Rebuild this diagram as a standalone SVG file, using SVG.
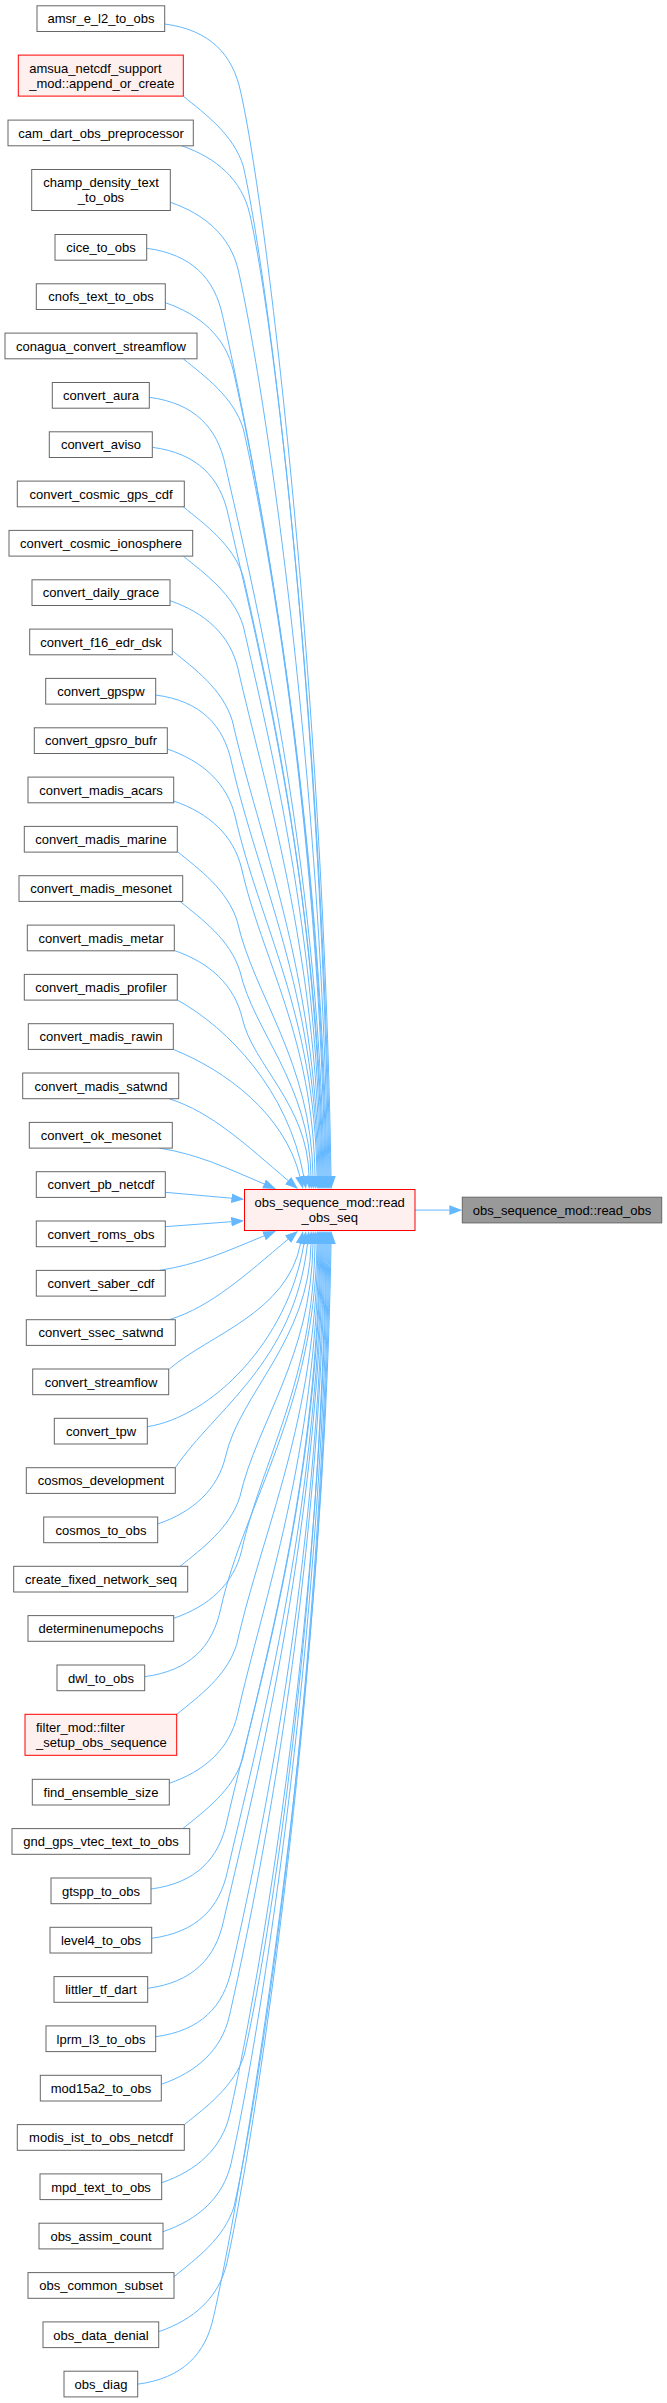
<svg xmlns="http://www.w3.org/2000/svg" width="667" height="2403" viewBox="0 0 667 2403">
<style>
.n rect{fill:#ffffff;stroke:#666666;stroke-width:1}
.hl rect{fill:#fff0f0;stroke:#ff0000;stroke-width:1}
.cur rect{fill:#999999;stroke:#666666;stroke-width:1}
text{font-family:"Liberation Sans",Arial,Helvetica,sans-serif;font-size:13px;fill:#000000;text-anchor:middle}
text.l{text-anchor:start}
#edges path{fill:none;stroke:#63b8ff;stroke-width:1;marker-end:url(#ah)}
</style>
<defs>
<marker id="ah" viewBox="0 -5 13 10" refX="0" refY="0" markerWidth="13" markerHeight="10" markerUnits="userSpaceOnUse" orient="auto">
<path d="M0,-4.8 L13,0 L0,4.8 Z" fill="#63b8ff"/>
</marker>
</defs>
<rect width="667" height="2403" fill="#ffffff"/>
<g id="edges">
<path d="M415,1210.1 L449.3,1210.1"/>
<path d="M164.7,24 C209.7,30 232.7,54 240.7,92 C267.1,209 323.2,688.2 331,1176"/>
<path d="M183.3,96.2 C205.3,114.2 233.3,134.2 243.3,166.2 C269.7,283.2 322.7,721.6 330,1176"/>
<path d="M181.7,145.8 C216.7,157.8 241.7,179.8 249.7,213.8 C276.1,330.8 322.1,743 329,1176"/>
<path d="M170.3,202.3 C205.3,214.3 230.3,236.3 238.3,270.3 C264.7,387.3 321.5,768.4 328,1176"/>
<path d="M146.7,248.3 C191.7,254.3 214.7,278.3 222.7,316.3 C249.1,433.3 320.8,789.1 327,1176"/>
<path d="M165.3,302.7 C200.3,314.7 225.3,336.7 233.3,370.7 C259.7,487.7 320.2,813.6 326,1176"/>
<path d="M183.3,358.8 C205.3,376.8 233.3,396.8 243.3,428.8 C269.7,545.8 319.6,839.8 325,1176"/>
<path d="M149.3,397.3 C194.3,403.3 217.3,427.3 225.3,465.3 C251.7,582.3 318.9,856.2 324,1176"/>
<path d="M152.3,447.3 C197.3,453.3 220.3,477.3 228.3,515.3 C254.7,632.3 318.2,878.7 323,1176"/>
<path d="M183.3,506.8 C205.3,524.8 233.3,544.8 243.3,576.8 C269.7,693.8 317.7,906.4 322,1176"/>
<path d="M183.3,556.1 C205.3,574.1 233.3,594.1 243.3,626.1 C269.7,743.1 317,928.5 321,1176"/>
<path d="M170,600.7 C205,612.7 230,634.7 238,668.7 C264.4,785.7 316.3,947.7 320,1176"/>
<path d="M172.3,650.7 C194.3,668.7 222.3,688.7 232.3,720.7 C258.7,837.7 315.7,971.1 319,1176"/>
<path d="M155.7,695 C200.7,701 223.7,725 231.7,763 C258.1,880 315,990.1 318,1176"/>
<path d="M167.3,749 C202.3,761 227.3,783 235.3,817 C259,922 314.4,1014.4 317,1176"/>
<path d="M173.7,801 C208.7,813 233.7,835 241.7,869 C262,958.8 312.8,1037.8 315,1176"/>
<path d="M177.3,851.5 C199.3,869.5 227.3,889.5 237.3,921.5 C254.1,996 311.2,1061.5 313,1176"/>
<path d="M180,901.4 C202,919.4 230,939.4 240,971.4 C253.5,1031.3 309.5,1083.9 311,1176"/>
<path d="M174.3,950.5 C209.3,962.5 234.3,984.5 242.3,1018.5 C252.7,1064.6 307.9,1105.1 309,1176"/>
<path d="M177.3,1000 C228.8,1028.4 288.3,1091.2 303.7,1176.2"/>
<path d="M173.3,1049.4 C225.2,1070.3 284.3,1113.6 299.9,1176.4"/>
<path d="M169.3,1098.8 C211.8,1112.3 245.6,1144.5 288.1,1180.6"/>
<path d="M159.3,1148.1 C197.8,1154.2 225.5,1167.5 264,1183.9"/>
<path d="M165.3,1192.3 L231.4,1198.2"/>
<path d="M165.3,1226.7 L231.3,1221.7"/>
<path d="M159.3,1270.4 C197.8,1264.5 225.5,1251.7 264,1235.9"/>
<path d="M169.3,1319.7 C211.8,1306.4 245.5,1274.8 288,1239.3"/>
<path d="M169.3,1369 C209.4,1334.5 287.1,1312.8 300.5,1243.8"/>
<path d="M147.3,1426.7 C210.8,1416.9 288,1341.7 303.9,1243.8"/>
<path d="M175.3,1467.7 C215.4,1408.5 294.1,1362.3 307.5,1243.9"/>
<path d="M157.7,1524 C192.7,1512 217.7,1490 225.7,1456 C239.7,1394 309.5,1339.4 311,1244"/>
<path d="M180,1566.4 C202,1548.4 230,1528.4 240,1496.4 C256.7,1422.6 311.2,1357.6 313,1244"/>
<path d="M173.7,1618.3 C208.7,1606.3 233.7,1584.3 241.7,1550.3 C261.9,1460.7 312.8,1381.8 315,1244"/>
<path d="M144.7,1676.7 C189.7,1670.7 212.7,1646.7 220.7,1608.7 C244.8,1502 314.4,1408.1 317,1244"/>
<path d="M176.7,1714.4 C198.7,1696.4 226.7,1676.4 236.7,1644.4 C263.1,1527.4 315.1,1424.2 318,1244"/>
<path d="M169.3,1783.3 C204.3,1771.3 229.3,1749.3 237.3,1715.3 C263.7,1598.3 315.6,1456.1 319,1244"/>
<path d="M182.7,1828.7 C204.7,1810.7 232.7,1790.7 242.7,1758.7 C269.1,1641.7 316.3,1475.6 320,1244"/>
<path d="M151,1889 C196,1883 219,1859 227,1821 C253.4,1704 316.8,1503.7 321,1244"/>
<path d="M151.7,1938.3 C196.7,1932.3 219.7,1908.3 227.7,1870.3 C254.1,1753.3 317.5,1525.8 322,1244"/>
<path d="M147.7,1988.3 C192.7,1982.3 215.7,1958.3 223.7,1920.3 C250.1,1803.3 318.1,1548.3 323,1244"/>
<path d="M155.7,2036.7 C200.7,2030.7 223.7,2006.7 231.7,1968.7 C258.1,1851.7 318.8,1570.1 324,1244"/>
<path d="M161.3,2084.3 C196.3,2072.3 221.3,2050.3 229.3,2016.3 C255.7,1899.3 319.4,1591.5 325,1244"/>
<path d="M184.3,2124.7 C206.3,2106.7 234.3,2086.7 244.3,2054.7 C270.7,1937.7 320.2,1608.8 326,1244"/>
<path d="M161.7,2182.7 C196.7,2170.7 221.7,2148.7 229.7,2114.7 C256.1,1997.7 320.7,1635.8 327,1244"/>
<path d="M163,2231.7 C198,2219.7 223,2197.7 231,2163.7 C257.4,2046.7 321.4,1657.9 328,1244"/>
<path d="M174,2276.7 C196,2258.7 224,2238.7 234,2206.7 C260.4,2089.7 322.1,1677.2 329,1244"/>
<path d="M158.7,2331.7 C193.7,2319.7 218.7,2297.7 226.7,2263.7 C253.1,2146.7 322.7,1702.9 330,1244"/>
<path d="M137.7,2384.2 C182.7,2378.2 205.7,2354.2 213.7,2316.2 C240.1,2199.2 323.3,1726.5 331,1244"/>
</g>
<g id="n_read_obs_seq" class="hl"><rect x="244.5" y="1189.5" width="170.5" height="41"/><text x="329.7" y="1207">obs_sequence_mod::read</text><text x="329.7" y="1222">_obs_seq</text></g>
<g id="n_read_obs" class="cur"><rect x="462.3" y="1197.2" width="199.4" height="25.7"/><text x="562" y="1214.8">obs_sequence_mod::read_obs</text></g>
<g id="n1" class="n"><rect x="37" y="5.8" width="127.7" height="25.7"/><text x="101" y="23.4">amsr_e_l2_to_obs</text></g>
<g id="n2" class="hl"><rect x="18.3" y="55.1" width="165" height="41"/><text class="l" x="29.3" y="72.9">amsua_netcdf_support</text><text class="l" x="29.3" y="87.6">_mod::append_or_create</text></g>
<g id="n3" class="n"><rect x="8" y="120.1" width="185.3" height="25.7"/><text x="101" y="137.7">cam_dart_obs_preprocessor</text></g>
<g id="n4" class="n"><rect x="31.7" y="169.5" width="138.6" height="41"/><text x="101" y="187.3">champ_density_text</text><text x="101" y="202">_to_obs</text></g>
<g id="n5" class="n"><rect x="55" y="234.5" width="91.7" height="25.7"/><text x="101" y="252.1">cice_to_obs</text></g>
<g id="n6" class="n"><rect x="36.3" y="283.8" width="129" height="25.7"/><text x="101" y="301.4">cnofs_text_to_obs</text></g>
<g id="n7" class="n"><rect x="5" y="333.1" width="192" height="25.7"/><text x="101" y="350.7">conagua_convert_streamflow</text></g>
<g id="n8" class="n"><rect x="52.3" y="382.5" width="97" height="25.7"/><text x="101" y="400.1">convert_aura</text></g>
<g id="n9" class="n"><rect x="49.3" y="431.8" width="103" height="25.7"/><text x="101" y="449.4">convert_aviso</text></g>
<g id="n10" class="n"><rect x="17.3" y="481.1" width="167" height="25.7"/><text x="101" y="498.7">convert_cosmic_gps_cdf</text></g>
<g id="n11" class="n"><rect x="9" y="530.4" width="183.7" height="25.7"/><text x="101" y="548">convert_cosmic_ionosphere</text></g>
<g id="n12" class="n"><rect x="32" y="579.8" width="138" height="25.7"/><text x="101" y="597.4">convert_daily_grace</text></g>
<g id="n13" class="n"><rect x="29.7" y="629.1" width="142.6" height="25.7"/><text x="101" y="646.7">convert_f16_edr_dsk</text></g>
<g id="n14" class="n"><rect x="45.7" y="678.4" width="110" height="25.7"/><text x="101" y="696">convert_gpspw</text></g>
<g id="n15" class="n"><rect x="34.3" y="727.8" width="133" height="25.7"/><text x="101" y="745.4">convert_gpsro_bufr</text></g>
<g id="n16" class="n"><rect x="28" y="777.1" width="145.7" height="25.7"/><text x="101" y="794.7">convert_madis_acars</text></g>
<g id="n17" class="n"><rect x="24.3" y="826.4" width="153" height="25.7"/><text x="101" y="844">convert_madis_marine</text></g>
<g id="n18" class="n"><rect x="19" y="875.7" width="163.7" height="25.7"/><text x="101" y="893.3">convert_madis_mesonet</text></g>
<g id="n19" class="n"><rect x="27.3" y="925.1" width="147" height="25.7"/><text x="101" y="942.7">convert_madis_metar</text></g>
<g id="n20" class="n"><rect x="24.3" y="974.4" width="153" height="25.7"/><text x="101" y="992">convert_madis_profiler</text></g>
<g id="n21" class="n"><rect x="28.3" y="1023.7" width="145" height="25.7"/><text x="101" y="1041.3">convert_madis_rawin</text></g>
<g id="n22" class="n"><rect x="22.7" y="1073" width="156" height="25.7"/><text x="101" y="1090.6">convert_madis_satwnd</text></g>
<g id="n23" class="n"><rect x="29.3" y="1122.4" width="143" height="25.7"/><text x="101" y="1140">convert_ok_mesonet</text></g>
<g id="n24" class="n"><rect x="36.3" y="1171.7" width="129" height="25.7"/><text x="101" y="1189.3">convert_pb_netcdf</text></g>
<g id="n25" class="n"><rect x="36.3" y="1221" width="129" height="25.7"/><text x="101" y="1238.6">convert_roms_obs</text></g>
<g id="n26" class="n"><rect x="36.3" y="1270.4" width="129" height="25.7"/><text x="101" y="1288">convert_saber_cdf</text></g>
<g id="n27" class="n"><rect x="26.3" y="1319.7" width="149" height="25.7"/><text x="101" y="1337.3">convert_ssec_satwnd</text></g>
<g id="n28" class="n"><rect x="32.7" y="1369" width="136" height="25.7"/><text x="101" y="1386.6">convert_streamflow</text></g>
<g id="n29" class="n"><rect x="54.3" y="1418.3" width="93" height="25.7"/><text x="101" y="1435.9">convert_tpw</text></g>
<g id="n30" class="n"><rect x="26.3" y="1467.7" width="149" height="25.7"/><text x="101" y="1485.3">cosmos_development</text></g>
<g id="n31" class="n"><rect x="43.7" y="1517" width="114" height="25.7"/><text x="101" y="1534.6">cosmos_to_obs</text></g>
<g id="n32" class="n"><rect x="13.7" y="1566.3" width="174" height="25.7"/><text x="101" y="1583.9">create_fixed_network_seq</text></g>
<g id="n33" class="n"><rect x="28" y="1615.6" width="145.7" height="25.7"/><text x="101" y="1633.2">determinenumepochs</text></g>
<g id="n34" class="n"><rect x="57" y="1665" width="87.7" height="25.7"/><text x="101" y="1682.6">dwl_to_obs</text></g>
<g id="n35" class="hl"><rect x="25" y="1714.3" width="151.7" height="41"/><text class="l" x="36" y="1732.1">filter_mod::filter</text><text class="l" x="36" y="1746.8">_setup_obs_sequence</text></g>
<g id="n36" class="n"><rect x="32.3" y="1779.3" width="137" height="25.7"/><text x="101" y="1796.9">find_ensemble_size</text></g>
<g id="n37" class="n"><rect x="12" y="1828.6" width="177.7" height="25.7"/><text x="101" y="1846.2">gnd_gps_vtec_text_to_obs</text></g>
<g id="n38" class="n"><rect x="51" y="1878" width="100" height="25.7"/><text x="101" y="1895.6">gtspp_to_obs</text></g>
<g id="n39" class="n"><rect x="50" y="1927.3" width="101.7" height="25.7"/><text x="101" y="1944.9">level4_to_obs</text></g>
<g id="n40" class="n"><rect x="54" y="1976.6" width="93.7" height="25.7"/><text x="101" y="1994.2">littler_tf_dart</text></g>
<g id="n41" class="n"><rect x="46" y="2025.9" width="109.7" height="25.7"/><text x="101" y="2043.5">lprm_l3_to_obs</text></g>
<g id="n42" class="n"><rect x="40.3" y="2075.3" width="121" height="25.7"/><text x="101" y="2092.9">mod15a2_to_obs</text></g>
<g id="n43" class="n"><rect x="17.3" y="2124.6" width="167" height="25.7"/><text x="101" y="2142.2">modis_ist_to_obs_netcdf</text></g>
<g id="n44" class="n"><rect x="40" y="2173.9" width="121.7" height="25.7"/><text x="101" y="2191.5">mpd_text_to_obs</text></g>
<g id="n45" class="n"><rect x="39" y="2223.2" width="124" height="25.7"/><text x="101" y="2240.8">obs_assim_count</text></g>
<g id="n46" class="n"><rect x="28" y="2272.6" width="146" height="25.7"/><text x="101" y="2290.2">obs_common_subset</text></g>
<g id="n47" class="n"><rect x="43" y="2321.9" width="115.7" height="25.7"/><text x="101" y="2339.5">obs_data_denial</text></g>
<g id="n48" class="n"><rect x="64" y="2371.2" width="73.7" height="25.7"/><text x="101" y="2388.8">obs_diag</text></g>
</svg>
